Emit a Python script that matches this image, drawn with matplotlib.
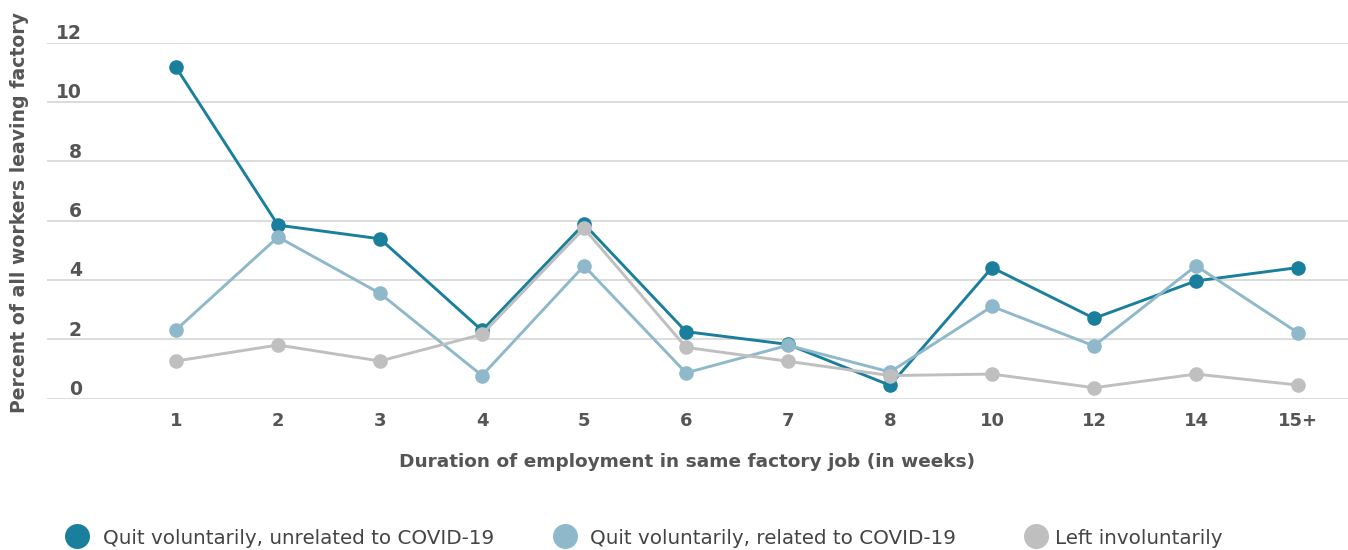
import matplotlib
matplotlib.use("Agg")
import matplotlib.pyplot as plt
from matplotlib.lines import Line2D
from matplotlib.transforms import blended_transform_factory

plt.rcParams['font.family'] = ['DejaVu Sans']

# Data
weeks = ["1", "2", "3", "4", "5", "6", "7", "8", "10", "12", "14", "15+"]
quit_unrelated = [11.17, 5.85, 5.39, 2.3, 5.89, 2.26, 1.83, 0.45, 4.42, 2.71, 3.97, 4.42]
quit_related = [2.32, 5.45, 3.55, 0.78, 4.48, 0.87, 1.80, 0.90, 3.11, 1.78, 4.48, 2.22]
left_involuntary = [1.27, 1.81, 1.27, 2.17, 5.74, 1.73, 1.26, 0.78, 0.83, 0.37, 0.83, 0.46]
series_names = ["Quit voluntarily, unrelated to COVID-19",
                "Quit voluntarily, related to COVID-19",
                "Left involuntarily"]
y_ticks = [0, 2, 4, 6, 8, 10, 12]

colors = ["#1a7f9c", "#8fb9ca", "#bfbfbf"]
tick_color = "#555555"

W, H = 1348, 550
fig = plt.figure(figsize=(W / 100, H / 100), dpi=100)
ax = fig.add_axes([47 / W, (H - 398.7) / H, (W - 47) / W, (398.7 - 42.7) / H])
ax.set_xlim(-1.265, 11.49)
ax.set_ylim(0, 12)
for s in ax.spines.values():
    s.set_visible(False)
ax.set_xticks([])
ax.set_yticks([])

for v in y_ticks:
    ax.axhline(v, color="#d9d9d9", lw=1.3, zorder=0)

x = list(range(len(weeks)))
for vals, c, z in zip([quit_unrelated, quit_related, left_involuntary], colors, [3, 4, 5]):
    ax.plot(x, vals, color=c, lw=2.1, marker="o", markersize=10.5,
            markeredgewidth=0, zorder=z, clip_on=False)

# y tick labels sit above their gridlines
ytr = blended_transform_factory(fig.transFigure, ax.transData)
for v in y_ticks:
    ax.text(82 / W, v + 0.13, str(v), transform=ytr, ha="right", va="baseline",
            fontsize=13.5, fontweight="bold", color=tick_color)

# x tick labels
xtr = blended_transform_factory(ax.transData, fig.transFigure)
for i, lab in enumerate(weeks):
    ax.text(i, (H - 426.5) / H, lab, transform=xtr, ha="center", va="baseline",
            fontsize=13, fontweight="bold", color=tick_color)

fig.text((400 + 975) / 2 / W, (H - 467) / H,
         "Duration of employment in same factory job (in weeks)",
         ha="center", va="baseline", fontsize=13.3, fontweight="bold", color=tick_color)

fig.text(20 / W, (H - 213) / H, "Percent of all workers leaving factory",
         rotation=90, ha="center", va="center", fontsize=13.6, fontweight="bold",
         color=tick_color)

# legend
leg_marker_x = [77, 565, 1036]
leg_text_x = [103, 590, 1055]
for mx, tx, c, name in zip(leg_marker_x, leg_text_x, colors, series_names):
    fig.add_artist(Line2D([mx / W], [(H - 536) / H], marker="o", markersize=18,
                          color=c, markeredgewidth=0, transform=fig.transFigure))
    fig.text(tx / W, (H - 543.5) / H, name, ha="left", va="baseline",
             fontsize=14.3, color="#444444")

fig.savefig("out.png", dpi=100)
